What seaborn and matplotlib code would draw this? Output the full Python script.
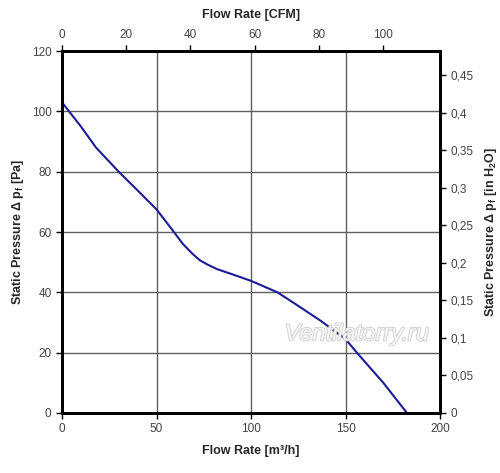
import pandas as pd
import matplotlib
matplotlib.use('Agg')
import matplotlib.pyplot as plt
import matplotlib.patheffects as pe
from matplotlib.ticker import FuncFormatter
import seaborn as sns

sns.set_style("white")
plt.rcParams['font.family'] = ['Liberation Sans', 'DejaVu Sans']
plt.rcParams['mathtext.fontset'] = 'custom'
plt.rcParams['mathtext.rm'] = 'Liberation Sans:bold'
plt.rcParams['mathtext.it'] = 'Liberation Sans:bold'
plt.rcParams['mathtext.bf'] = 'Liberation Sans:bold'

# Fan curve
flow_m3h = [0, 10, 18, 30, 40, 50, 58, 64, 69, 73, 77, 82, 90, 100, 114, 125, 137, 150, 156, 170, 182.5]
pressure_pa = [103, 95, 88, 80, 73.8, 67.5, 61, 56, 52.8, 50.6, 49.2, 47.7, 46, 43.8, 40, 35.5, 30.5, 24.5, 20, 10, 0]

x_ticks = [0, 50, 100, 150, 200]
y_ticks = [0, 20, 40, 60, 80, 100, 120]
cfm_ticks = [0, 20, 40, 60, 80, 100]
inh2o_ticks = [0, 0.05, 0.1, 0.15, 0.2, 0.25, 0.3, 0.35, 0.4, 0.45]

M3H_TO_CFM = 0.5886
PA_TO_INH2O = 0.004015

df = pd.DataFrame({'flow': flow_m3h, 'pressure': pressure_pa})

fig = plt.figure(figsize=(5, 4.73), dpi=100)
ax = fig.add_axes([0.124, 0.127, 0.756, 0.765])

sns.lineplot(data=df, x='flow', y='pressure', ax=ax, color='#1c1c96', linewidth=1.5)

ax.set_xlim(0, 200)
ax.set_ylim(0, 120)
ax.set_xticks(x_ticks)
ax.set_yticks(y_ticks)
ax.grid(True, color='#606060', linewidth=1)
tick_kw = dict(labelsize=8.5, labelcolor='#444444', direction='out', length=4, width=1, color='black')
ax.tick_params(axis='both', **tick_kw)
ax.set_xlabel('Flow Rate [m³/h]', fontsize=9, fontweight='bold', labelpad=7)
ax.set_ylabel(r'Static Pressure Δ p$_{f}$ [Pa]', fontsize=9, fontweight='bold', labelpad=4)

# right axis: inches of water
ax_r = ax.twinx()
ax_r.set_ylim(0, 120 * PA_TO_INH2O)
ax_r.set_yticks(inh2o_ticks)
ax_r.yaxis.set_major_formatter(FuncFormatter(lambda v, p: ('%g' % round(v, 2)).replace('.', ',')))
ax_r.tick_params(axis='y', **tick_kw)
ax_r.set_ylabel(r'Static Pressure Δ p$_{f}$ [in H$_{2}$O]', fontsize=9, fontweight='bold', labelpad=7)

# top axis: CFM
ax_t = ax.twiny()
ax_t.set_xlim(0, 200 * M3H_TO_CFM)
ax_t.set_xticks(cfm_ticks)
ax_t.tick_params(axis='x', **tick_kw)
ax_t.set_xlabel('Flow Rate [CFM]', fontsize=9, fontweight='bold', labelpad=8)

for a in (ax, ax_r, ax_t):
    for s in a.spines.values():
        s.set_color('black')
        s.set_linewidth(1.8)

ax.text(156, 26.2, 'Ventilatorry.ru', fontsize=17, fontstyle='italic',
        color='white', alpha=0.85, ha='center', va='center', zorder=5,
        path_effects=[pe.Stroke(linewidth=1.2, foreground='#c4c4c4'), pe.Normal()])

plt.savefig('out.png', dpi=100)
plt.close()
